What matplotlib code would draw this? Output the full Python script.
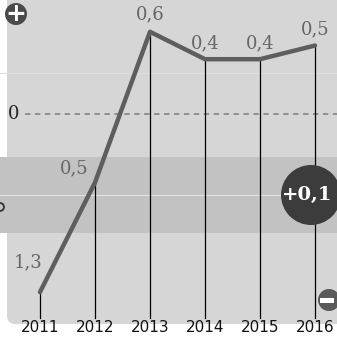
import matplotlib.pyplot as plt
from matplotlib.patches import FancyBboxPatch, Circle, Rectangle

years = [2011, 2012, 2013, 2014, 2015, 2016]
values = [-1.3, -0.5, 0.6, 0.4, 0.4, 0.5]
value_labels = ['1,3', '0,5', '0,6', '0,4', '0,4', '0,5']
badge_text = '+0,1'

W, H = 337, 340


def px(x, y):
    # пиксели -> доли фигуры (ось занимает всю фигуру)
    return x / W, 1 - y / H


fig = plt.figure(figsize=(W / 100, H / 100), dpi=100)
fig.patch.set_facecolor('white')

ax = fig.add_axes([0, 0, 1, 1])
ax.set_facecolor('none')
ax.set_xlim(2011 - 40 / 55, 2011 + 297 / 55)
ax.set_ylim(-226 / 137, 114 / 137)
ax.axis('off')
T = ax.transAxes

# фон с закруглёнными углами
x0, y0 = px(7, 324)
ax.add_patch(FancyBboxPatch((x0, y0), 1 - x0 + 0.05, 1 - y0 + 0.05,
                            boxstyle='round,pad=0,rounding_size=0.025',
                            transform=T, facecolor='#d6d6d6',
                            edgecolor='none', zorder=0, clip_on=False))
bx, by = px(0, 233)
ax.add_patch(Rectangle((bx, by), 1, 76 / H, transform=T,
                       facecolor='#c2c2c2', edgecolor='none', zorder=0.5,
                       clip_on=False))

# светлые линии
ax.axhline(0.3, color='#dedede', lw=0.8, zorder=1)
ax.axhline(-0.59, color='#e2e2e2', lw=0.8, zorder=1)

# ноль
ax.plot([2011 - 15 / 55, 2017], [0, 0], color='#8a8a8a', lw=1.3,
        ls=(0, (3, 2.5)), zorder=2)
ax.text(2011 - 26 / 55, 0, '0', family='DejaVu Serif', fontsize=13,
        color='#222222', ha='center', va='center')

# вертикальные линии
bottom = -204 / 137
for yr, v in zip(years, values):
    ax.plot([yr, yr], [bottom, v], color='black', lw=0.9, zorder=3)

ax.plot(years, values, color='#5e5e5e', lw=3.2, solid_capstyle='round',
        zorder=4)

# подписи значений
offsets = [(-12, 30), (-21, 14), (0, 17), (0, 16), (0, 16), (0, 16)]
for yr, v, lab, (dx, dy) in zip(years, values, value_labels, offsets):
    ax.annotate(lab, (yr, v), xytext=(dx, dy), textcoords='offset pixels',
                ha='center', va='center', family='DejaVu Serif',
                fontsize=13, color='#666666', zorder=5)

# годы
for yr in years:
    ax.annotate(str(yr), (yr, bottom), xytext=(0, -9),
                textcoords='offset pixels', ha='center', va='center',
                fontsize=11, color='#111111', zorder=5)

# значки
ax.add_patch(Circle((16, H - 14), 11, transform=None, facecolor='#4a4a4a',
                    edgecolor='none', zorder=6, clip_on=False))
cx, cy = px(16, 14)
ax.text(cx, cy, '+', transform=T, color='white', fontsize=18,
        fontweight='bold', ha='center', va='center', zorder=7)

ax.add_patch(Circle((329, H - 300), 11, transform=None, facecolor='#5a5a5a',
                    edgecolor='none', zorder=6, clip_on=False))
mx, my = px(329, 300)
ax.add_patch(Rectangle((mx - 9 / W, my - 2.5 / H), 14 / W, 5 / H,
                       transform=T, facecolor='white', edgecolor='none',
                       zorder=7, clip_on=False))

ax.add_patch(Circle((311, H - 195), 30, transform=None, facecolor='#3c3c3c',
                    edgecolor='none', zorder=6, clip_on=False))
tx, ty = px(307, 195)
ax.text(tx, ty, badge_text, transform=T, color='white', fontsize=14,
        fontweight='bold', family='DejaVu Serif', ha='center', va='center',
        zorder=7)

# обрезанный знак у левого края
ax.add_patch(Circle((0, H - 207), 4, transform=None, facecolor='none',
                    edgecolor='#333333', lw=1.3, zorder=6, clip_on=False))

fig.savefig('out.png', dpi=100)
